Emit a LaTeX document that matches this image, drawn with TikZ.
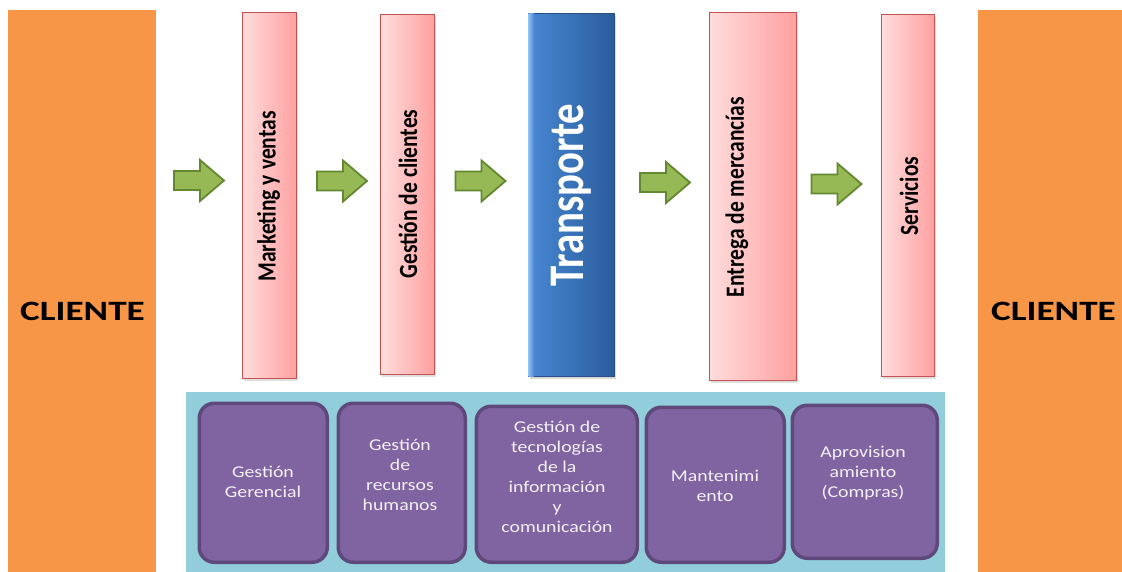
\documentclass[tikz,border=0pt]{standalone}
\usepackage{fontspec}
\setmainfont{Carlito}
\usetikzlibrary{shadows,calc}
\definecolor{orangeC}{RGB}{247,150,70}
\definecolor{tealC}{RGB}{146,205,220}
\definecolor{purpC}{RGB}{128,100,162}
\definecolor{purpD}{RGB}{95,73,122}
\definecolor{pinkL}{RGB}{255,220,220}
\definecolor{pinkR}{RGB}{255,160,160}
\definecolor{pinkB}{RGB}{195,82,80}
\definecolor{blueL}{RGB}{72,136,212}
\definecolor{blueR}{RGB}{42,92,155}
\definecolor{blueB}{RGB}{40,78,130}
\definecolor{blueHi}{RGB}{140,190,245}
\definecolor{greenF}{RGB}{150,185,85}
\definecolor{greenD}{RGB}{100,135,50}
\definecolor{txtW}{RGB}{244,240,246}
\begin{document}
\begin{tikzpicture}[x=1pt,y=-1pt,
  boxbase/.style={rectangle, inner sep=0pt, anchor=north west},
  clientebox/.style={boxbase, fill=orangeC},
  pinkbox/.style={boxbase, draw=pinkB, line width=1.3pt, shading=axis, left color=pinkL, right color=pinkR,
     drop shadow={opacity=0.25, shadow xshift=1.5pt, shadow yshift=-2.5pt}},
  bluebox/.style={boxbase, draw=blueB, line width=1pt, shading=axis, left color=blueL, right color=blueR,
     drop shadow={opacity=0.3, shadow xshift=1.5pt, shadow yshift=-2.5pt}},
  tealbox/.style={boxbase, fill=tealC},
  purpbox/.style={boxbase, draw=purpD, fill=purpC, line width=3.5pt, rounded corners=15pt},
  clientetext/.style={inner sep=0pt, font=\fontsize{28}{30}\selectfont\bfseries, text=black},
  pinktext/.style={inner sep=0pt, rotate=90, font=\fontsize{21.5}{24}\selectfont\bfseries, text=black},
  bluetext/.style={inner sep=0pt, rotate=90, font=\fontsize{40.8}{44}\selectfont\bfseries, text=white},
  purptext/.style={inner sep=0pt, font=\fontsize{16.5}{20}\selectfont, text=txtW},
  garrowstyle/.style={fill=greenF, draw=greenD, line width=1.8pt, line join=miter},
  garrow/.pic={\draw[garrowstyle] (-25,-9.5) -- (1,-9.5) -- (1,-20.5) -- (25,0) -- (1,20.5) -- (1,9.5) -- (-25,9.5) -- cycle;}
]
\useasboundingbox (0,0) rectangle (1122,572);
\fill[white] (0,0) rectangle (1122,572);

% client columns
\node[clientebox, minimum width=148pt, minimum height=562pt] (cl1) at (8,10) {};
\node[clientebox, minimum width=144pt, minimum height=562pt] (cl2) at (978,10) {};
\node[clientetext] (cl1t) at (82.5,311) {\scalebox{1.33}[1]{CLIENTE}};
\node[clientetext] (cl2t) at (1053.5,311) {\scalebox{1.33}[1]{CLIENTE}};

% support area
\node[tealbox, minimum width=759pt, minimum height=180pt] (sup) at (186,392) {};

% process columns
\node[pinkbox, minimum width=54pt, minimum height=366pt] (mk) at (242,12) {};
\node[pinkbox, minimum width=54pt, minimum height=360pt] (gc) at (380,14) {};
\node[bluebox, minimum width=86pt, minimum height=363pt] (tr) at (528,13) {};
\fill[left color=blueHi, right color=blueL] ($(tr.north west)+(0.5,0.5)$) rectangle ($(tr.south west)+(6,-0.5)$);
\node[pinkbox, minimum width=87pt, minimum height=368pt] (en) at (709,12) {};
\node[pinkbox, minimum width=53pt, minimum height=362pt] (sv) at (881,14) {};

\node[pinktext] (mkt) at (268.5,196.5) {\scalebox{1}[1.22]{Marketing y ventas}};
\node[pinktext] (gct) at (408,194) {\scalebox{1}[1.22]{Gestión de clientes}};
\node[bluetext] (trt) at (571,195) {\scalebox{1}[1.22]{Transporte}};
\node[pinktext] (ent) at (737,197) {\scalebox{1}[1.22]{Entrega de mercancías}};
\node[pinktext] (svt) at (909,196) {\scalebox{1}[1.22]{Servicios}};

% arrows
\coordinate (a1) at (199,180.5);
\coordinate (a2) at (342,181);
\coordinate (a3) at (480.5,181);
\coordinate (a4) at (665,182.5);
\coordinate (a5) at (836.5,184);
\foreach \a in {a1,a2,a3,a4,a5} \pic at (\a) {garrow};

% support boxes
\node[purpbox, minimum width=128pt, minimum height=159pt] (p1) at (197.5,401.5) {};
\node[purpbox, minimum width=127pt, minimum height=159pt] (p2) at (336.5,401.5) {};
\node[purpbox, minimum width=161pt, minimum height=156pt] (p3) at (474.5,404.5) {};
\node[purpbox, minimum width=138pt, minimum height=155pt] (p4) at (644.5,405.5) {};
\node[purpbox, minimum width=145pt, minimum height=153pt] (p5) at (790.5,403.5) {};

\node[purptext] (p1t) at (263,483) {\scalebox{1.2}[1]{\begin{tabular}{@{}c@{}}Gestión\\Gerencial\end{tabular}}};
\node[purptext] (p2t) at (400,476) {\scalebox{1.2}[1]{\begin{tabular}{@{}c@{}}Gestión\\de\\recursos\\humanos\end{tabular}}};
\node[purptext] (p3t) at (557,478) {\scalebox{1.2}[1]{\begin{tabular}{@{}c@{}}Gestión de\\tecnologías\\de la\\información\\y\\comunicación\end{tabular}}};
\node[purptext] (p4t) at (715,487) {\scalebox{1.2}[1]{\begin{tabular}{@{}c@{}}Mantenimi\\ento\end{tabular}}};
\node[purptext] (p5t) at (863,473) {\scalebox{1.2}[1]{\begin{tabular}{@{}c@{}}Aprovision\\amiento\\(Compras)\end{tabular}}};
\end{tikzpicture}
\end{document}
